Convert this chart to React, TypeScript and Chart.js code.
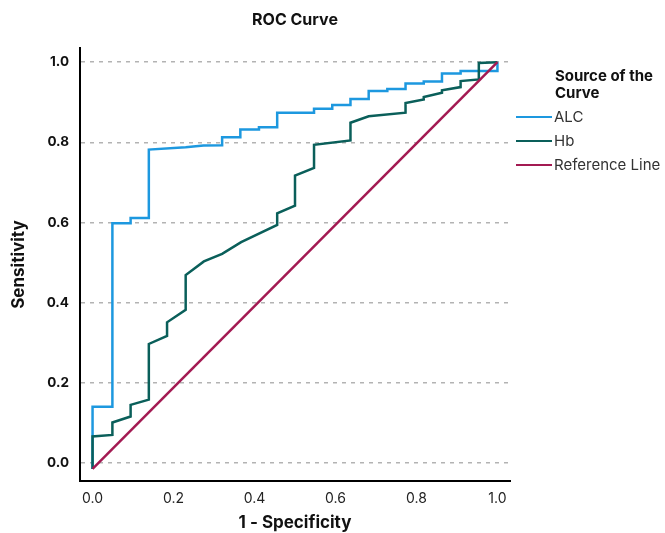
import React, { useEffect, useRef } from 'react';
import { Chart, registerables } from 'chart.js';

Chart.register(...registerables);

// ---- data ----
const alcFpr = [0, 0, 0.049, 0.049, 0.094, 0.094, 0.139, 0.139, 0.23, 0.274, 0.32, 0.32, 0.365, 0.365, 0.411, 0.411, 0.456, 0.456, 0.547, 0.547, 0.592, 0.592, 0.637, 0.637, 0.682, 0.682, 0.728, 0.728, 0.773, 0.773, 0.818, 0.818, 0.863, 0.863, 0.909, 0.909, 1.0, 1.0];
const alcTpr = [-0.015, 0.14, 0.14, 0.598, 0.598, 0.611, 0.611, 0.782, 0.788, 0.792, 0.793, 0.813, 0.813, 0.832, 0.832, 0.838, 0.838, 0.874, 0.874, 0.884, 0.884, 0.893, 0.893, 0.908, 0.908, 0.928, 0.928, 0.933, 0.933, 0.947, 0.947, 0.952, 0.952, 0.972, 0.972, 0.978, 0.978, 1.0];

const hbFpr = [0, 0, 0.049, 0.049, 0.094, 0.094, 0.139, 0.139, 0.184, 0.184, 0.23, 0.23, 0.275, 0.32, 0.367, 0.456, 0.456, 0.5, 0.5, 0.547, 0.547, 0.637, 0.637, 0.682, 0.773, 0.773, 0.818, 0.818, 0.863, 0.863, 0.909, 0.909, 0.954, 0.954, 1.0];
const hbTpr = [-0.015, 0.066, 0.07, 0.101, 0.116, 0.145, 0.158, 0.297, 0.317, 0.351, 0.382, 0.469, 0.503, 0.522, 0.551, 0.594, 0.623, 0.642, 0.717, 0.736, 0.794, 0.805, 0.849, 0.865, 0.874, 0.898, 0.907, 0.913, 0.924, 0.93, 0.938, 0.953, 0.957, 0.998, 1.0];

const refFpr = [0, 1.0];
const refTpr = [-0.015, 1.0];

const seriesNames = ['ALC', 'Hb', 'Reference Line'];
const seriesColors = ['#1d98df', '#0a5f5a', '#a31a52'];
const tickValues = [0, 0.2, 0.4, 0.6, 0.8, 1.0];
const chartTitle = 'ROC Curve';
const xTitle = '1 - Specificity';
const yTitle = 'Sensitivity';
const legendTitle = ['Source of the', 'Curve'];

const FONT = "Inter, 'Noto Sans', sans-serif";

const toPoints = (xs: number[], ys: number[]) => xs.map((x, i) => ({ x, y: ys[i] }));

const sideLegend = {
  id: 'sideLegend',
  afterDraw(chart: any) {
    const ctx = chart.ctx as CanvasRenderingContext2D;
    const left = chart.chartArea.right + 6;
    const textX = left + 39;
    ctx.save();
    ctx.fillStyle = '#111';
    ctx.textAlign = 'left';
    ctx.textBaseline = 'middle';
    ctx.font = `bold 15px ${FONT}`;
    legendTitle.forEach((t, i) => ctx.fillText(t, textX, 76 + i * 17));
    ctx.font = `15px ${FONT}`;
    chart.data.datasets.forEach((ds: any, i: number) => {
      const y = 117 + i * 24;
      ctx.strokeStyle = ds.borderColor;
      ctx.lineWidth = 2;
      ctx.beginPath();
      ctx.moveTo(left, y);
      ctx.lineTo(left + 36, y);
      ctx.stroke();
      ctx.fillStyle = '#333';
      ctx.fillText(ds.label, left + 38, y);
    });
    ctx.restore();
  },
};

export default function App() {
  const ref = useRef<HTMLCanvasElement | null>(null);

  useEffect(() => {
    document.body.style.margin = '0';
    if (!ref.current) return;
    const setTicks = (scale: any) => {
      scale.ticks = tickValues.map((v) => ({ value: v }));
    };
    const chart = new Chart(ref.current, {
      type: 'line',
      data: {
        datasets: [
          { label: seriesNames[0], data: toPoints(alcFpr, alcTpr), borderColor: seriesColors[0], order: 3 },
          { label: seriesNames[1], data: toPoints(hbFpr, hbTpr), borderColor: seriesColors[1], order: 2 },
          { label: seriesNames[2], data: toPoints(refFpr, refTpr), borderColor: seriesColors[2], order: 1 },
        ].map((d) => ({ ...d, borderWidth: 2.5, pointRadius: 0, tension: 0, fill: false })),
      },
      options: {
        animation: false,
        responsive: true,
        maintainAspectRatio: false,
        layout: { padding: { left: 0, right: 155, top: 0, bottom: 0 } },
        plugins: {
          legend: { display: false },
          tooltip: { enabled: false },
          title: {
            display: true,
            text: chartTitle,
            fullSize: false,
            color: '#111',
            font: { family: FONT, size: 16, weight: 'bold' },
            padding: { top: 11, bottom: 18 },
          },
        },
        scales: {
          x: {
            type: 'linear',
            min: -0.031,
            max: 1.031,
            afterBuildTicks: setTicks,
            afterFit: (s: any) => { s.height = 52; },
            grid: { display: false, drawTicks: false },
            border: { display: true, color: '#000', width: 2 },
            ticks: {
              padding: 9,
              color: '#222',
              font: { family: FONT, size: 14 },
              callback: (v: any) => Number(v).toFixed(1),
            },
            title: {
              display: true,
              text: xTitle,
              color: '#111',
              font: { family: FONT, size: 17, weight: 'bold' },
              padding: { top: 0, bottom: 0 },
            },
          },
          y: {
            type: 'linear',
            min: -0.045,
            max: 1.035,
            afterBuildTicks: setTicks,
            afterFit: (s: any) => { s.width = 80; },
            grid: { display: true, drawTicks: false, color: '#b3b3b3', lineWidth: 1.5 },
            border: { display: true, color: '#000', width: 2, dash: [4, 5] },
            ticks: {
              padding: 11,
              color: '#111',
              font: { family: FONT, size: 13.5, weight: 'bold' },
              callback: (v: any) => Number(v).toFixed(1),
            },
            title: {
              display: true,
              text: yTitle,
              color: '#111',
              font: { family: FONT, size: 17, weight: 'bold' },
              padding: { top: 9, bottom: 0 },
            },
          },
        },
      },
      plugins: [sideLegend],
    });
    return () => chart.destroy();
  }, []);

  return (
    <div style={{ width: 665, height: 533, position: 'relative' }}>
      <canvas ref={ref} />
    </div>
  );
}
